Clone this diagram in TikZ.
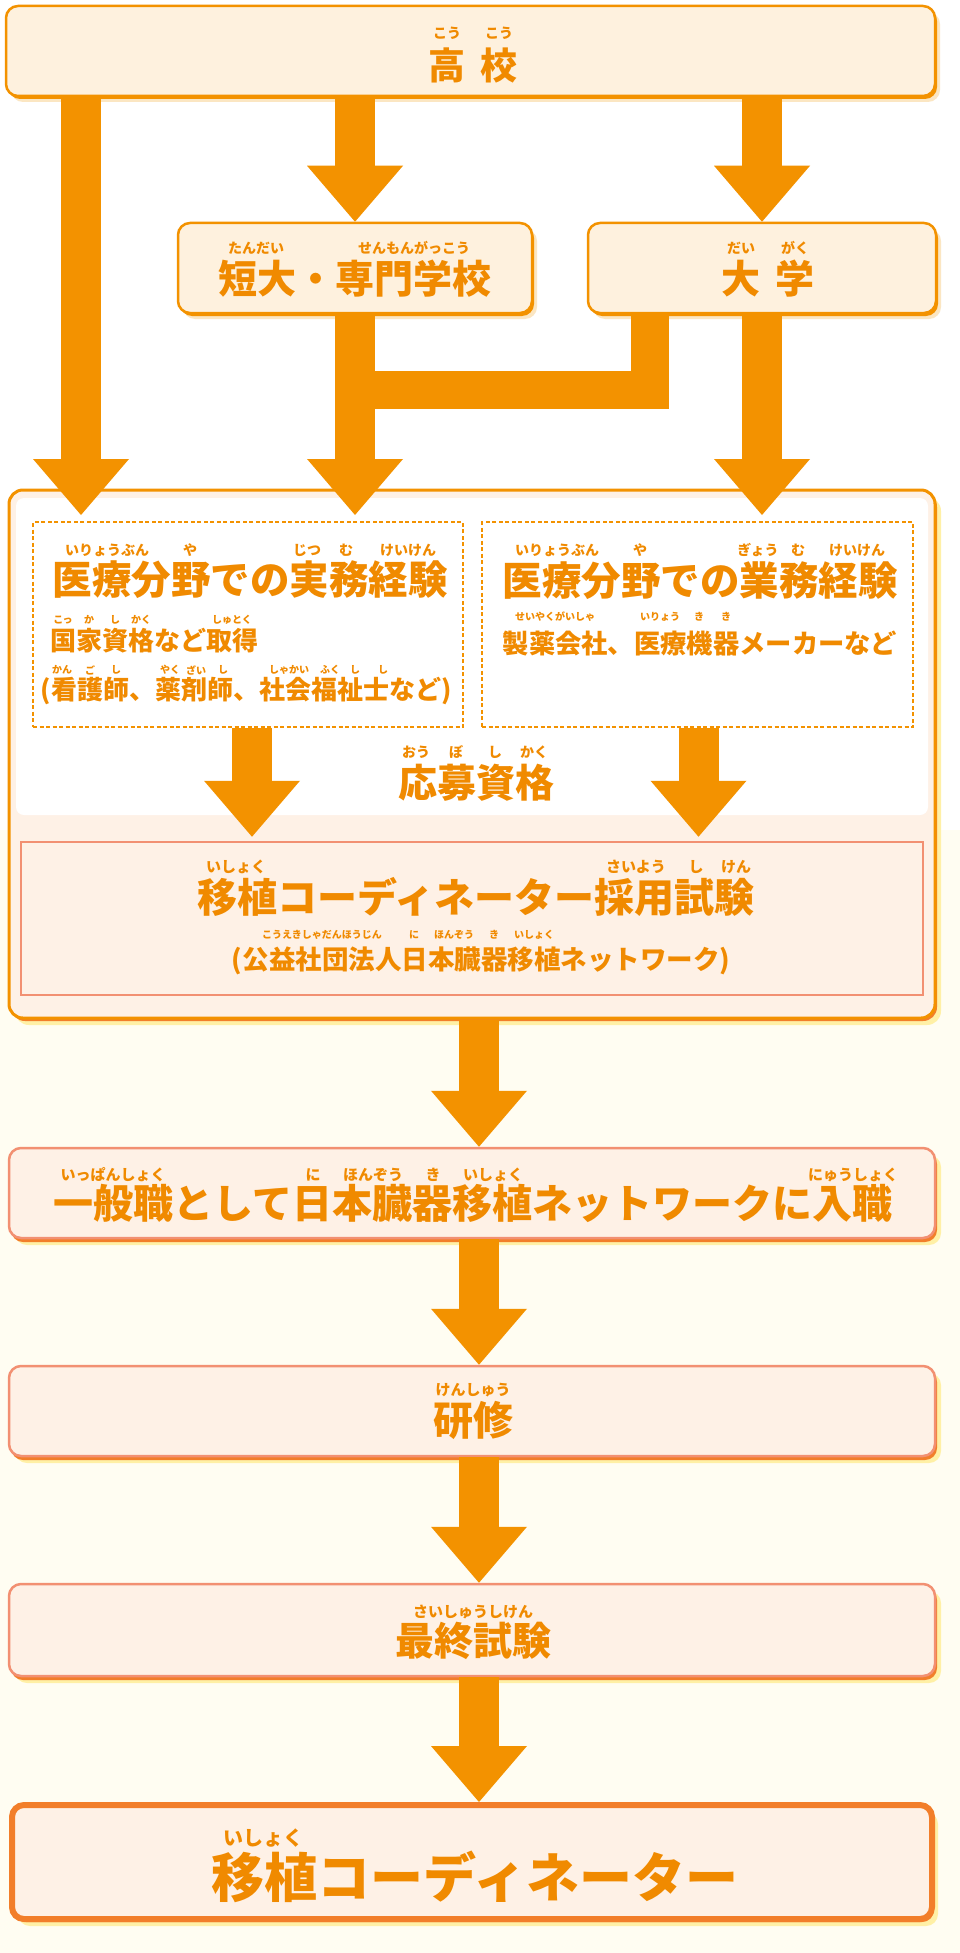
\documentclass[tikz,border=0pt]{standalone}
\usepackage{fontspec}
\setmainfont{Noto Sans CJK JP}
\usetikzlibrary{arrows.meta,shadows}
\definecolor{ora}{HTML}{F39200}
\definecolor{tcol}{HTML}{F08A00}
\definecolor{cream}{HTML}{FEF1DE}
\definecolor{halo}{HTML}{FBE6C2}
\definecolor{salmon}{HTML}{F29072}
\definecolor{redora}{HTML}{F27E2A}
\definecolor{lowfill}{HTML}{FEF1E6}
\definecolor{glow}{HTML}{FFF0A6}
\definecolor{bgl}{HTML}{FFFDF2}
\newcommand{\myfs}[1]{\fontsize{#1}{#1}\selectfont}
\begin{document}
\begin{tikzpicture}[x=1pt,y=-1pt,
  tx/.style={text=tcol, inner sep=0pt, font=\bfseries\myfs{#1}},
  topbox/.style={draw=ora, line width=2.5pt, fill=cream, rounded corners=12pt, inner sep=0pt,
    general shadow={shadow xshift=5pt, shadow yshift=-6pt, fill=halo},
    general shadow={shadow xshift=2pt, shadow yshift=-3pt, fill=ora}},
  contbox/.style={draw=ora, line width=3pt, fill=lowfill, rounded corners=14pt, inner sep=0pt,
    general shadow={shadow xshift=6pt, shadow yshift=-7pt, fill=glow},
    general shadow={shadow xshift=2pt, shadow yshift=-3pt, fill=redora}},
  lowbox/.style={draw=salmon, line width=2.5pt, fill=lowfill, rounded corners=12pt, inner sep=0pt,
    general shadow={shadow xshift=6pt, shadow yshift=-7pt, fill=glow},
    general shadow={shadow xshift=2pt, shadow yshift=-4pt, fill=redora}},
  finalbox/.style={draw=redora, line width=6pt, fill=lowfill, rounded corners=12pt, inner sep=0pt,
    general shadow={shadow xshift=6pt, shadow yshift=-7pt, fill=glow},
    general shadow={shadow xshift=2pt, shadow yshift=-3pt, fill=redora}},
  dashbox/.style={draw=ora, line width=1.8pt, dash pattern=on 4pt off 2.5pt, fill=white, inner sep=0pt},
  exambox/.style={draw=salmon, line width=2.5pt, fill=lowfill, inner sep=0pt},
  bigarrow/.style={draw=ora, line width=40pt, -{Triangle[width=96pt,length=56pt,line width=0pt]}},
  joinline/.style={draw=ora, line width=38pt, miter limit=10},
]
\useasboundingbox (0,0) rectangle (960,1953);
\fill[white] (0,0) rectangle (960,1953);
\fill[bgl] (0,830) rectangle (960,1953);

% ---------- boxes ----------
\node[topbox, minimum width=929pt, minimum height=90pt] (koko) at (470.5,51) {};
\node[topbox, minimum width=354pt, minimum height=90pt] (tandai) at (355,268) {};
\node[topbox, minimum width=348pt, minimum height=90pt] (daigaku) at (762,268) {};
\node[contbox, minimum width=926pt, minimum height=528pt] (cont) at (472,754) {};
\fill[white, rounded corners=8pt] (16,498) rectangle (928,815);
\node[dashbox, minimum width=430pt, minimum height=205pt] (dashL) at (248,624.5) {};
\node[dashbox, minimum width=431pt, minimum height=205pt] (dashR) at (697.5,624.5) {};
\node[exambox, minimum width=902pt, minimum height=153pt] (exam) at (472,918.5) {};
\node[lowbox, minimum width=926pt, minimum height=90pt] (ippan) at (472,1193) {};
\node[lowbox, minimum width=926pt, minimum height=90pt] (kenshu) at (472,1411) {};
\node[lowbox, minimum width=926pt, minimum height=92pt] (saishu) at (472,1630) {};
\node[finalbox, minimum width=920pt, minimum height=114pt] (final) at (472,1862) {};

% ---------- connectors ----------
\coordinate (t1) at (81,515);
\coordinate (mj) at (355,390);
\coordinate (cx) at (479,0);
\draw[bigarrow] (koko.south -| t1) -- (t1);
\draw[bigarrow] (koko.south -| tandai.north) -- (tandai.north);
\draw[bigarrow] (koko.south -| daigaku.north) -- (daigaku.north);
\draw[joinline] ([xshift=-112pt]daigaku.south) |- (mj);
\draw[bigarrow] (tandai.south) -- (tandai.south |- t1);
\draw[bigarrow] (daigaku.south) -- (daigaku.south |- t1);
\draw[bigarrow] ([xshift=4pt]dashL.south) -- ([xshift=4pt,yshift=4pt]dashL.south |- exam.north);
\draw[bigarrow] ([xshift=1pt]dashR.south) -- ([xshift=1pt,yshift=4pt]dashR.south |- exam.north);
\draw[bigarrow] (cont.south -| cx) -- (ippan.north -| cx);
\draw[bigarrow] (ippan.south -| cx) -- (kenshu.north -| cx);
\draw[bigarrow] (kenshu.south -| cx) -- (saishu.north -| cx);
\draw[bigarrow] (saishu.south -| cx) -- (final.north -| cx);

% ---------- texts ----------
\node[tx=37] (koko-t) at (473,65) {高\hspace{15pt}校};
\node[tx=14] (r1) at (447,33) {こう};
\node[tx=14] (r2) at (499,33) {こう};

\node[tx=39] (tandai-t) at (355,279) {短大・専門学校};
\node[tx=14] (r3) at (256,248) {たんだい};
\node[tx=14] (r4) at (414,248) {せんもんがっこう};

\node[tx=39] (daigaku-t) at (768,279) {大\hspace{15pt}学};
\node[tx=14] (r5) at (741,248) {だい};
\node[tx=14] (r6) at (795,248) {がく};

\node[tx=39.5] (jitsumu) at (250,580) {医療分野での実務経験};
\node[tx=14] (r7) at (107,550) {いりょうぶん};
\node[tx=14] (r8) at (190,550) {や};
\node[tx=14] (r9) at (307,550) {じつ};
\node[tx=14] (r10) at (346,550) {む};
\node[tx=14] (r11) at (408,550) {けいけん};

\node[tx=26] (kokka) at (154,641) {国家資格など取得};
\node[tx=10] (r12) at (63,620) {こっ};
\node[tx=10] (r13) at (89,620) {か};
\node[tx=10] (r14) at (115,620) {し};
\node[tx=10] (r15) at (141,620) {かく};
\node[tx=10] (r16) at (232,620) {しゅとく};

\node[tx=26] (kango) at (246,691) {(看護師、薬剤師、社会福祉士など)};
\node[tx=10] (r17) at (62,670) {かん};
\node[tx=10] (r18) at (90,670) {ご};
\node[tx=10] (r19) at (116,670) {し};
\node[tx=10] (r20) at (170,670) {やく};
\node[tx=10] (r21) at (196,670) {ざい};
\node[tx=10] (r22) at (223,670) {し};
\node[tx=10] (r23) at (289,670) {しゃかい};
\node[tx=10] (r24) at (330,670) {ふく};
\node[tx=10] (r25) at (355,670) {し};
\node[tx=10] (r26) at (383,670) {し};

\node[tx=39.5] (gyomu) at (700,581) {医療分野での業務経験};
\node[tx=14] (r27) at (557,550) {いりょうぶん};
\node[tx=14] (r28) at (640,550) {や};
\node[tx=14] (r29) at (758,550) {ぎょう};
\node[tx=14] (r30) at (798,550) {む};
\node[tx=14] (r31) at (857,550) {けいけん};

\node[tx=26.3] (seiyaku) at (700,643) {製薬会社、医療機器メーカーなど};
\node[tx=10] (r32) at (555,617) {せいやくがいしゃ};
\node[tx=10] (r33) at (660,617) {いりょう};
\node[tx=10] (r34) at (699,617) {き};
\node[tx=10] (r35) at (726,617) {き};

\node[tx=39] (oubo) at (476,783) {応募資格};
\node[tx=14] (r36) at (416,752) {おう};
\node[tx=14] (r37) at (456,752) {ぼ};
\node[tx=14] (r38) at (495,752) {し};
\node[tx=14] (r39) at (534,752) {かく};

\node[tx=40] (exam-t) at (476,897) {移植コーディネーター採用試験};
\node[tx=15] (r40) at (236,867) {いしょく};
\node[tx=15] (r41) at (636,867) {さいよう};
\node[tx=15] (r42) at (696,867) {し};
\node[tx=15] (r43) at (736,867) {けん};

\node[tx=26.5] (jot) at (481,961) {(公益社団法人日本臓器移植ネットワーク)};
\node[tx=10] (r44) at (322,935) {こうえきしゃだんほうじん};
\node[tx=10] (r45) at (414,935) {に};
\node[tx=10] (r46) at (454,935) {ほんぞう};
\node[tx=10] (r47) at (494,935) {き};
\node[tx=10] (r48) at (534,935) {いしょく};

\node[tx=40] (ippan-t) at (473,1203) {一般職として日本臓器移植ネットワークに入職};
\node[tx=15] (r49) at (113,1175) {いっぱんしょく};
\node[tx=15] (r50) at (313,1175) {に};
\node[tx=15] (r51) at (373,1175) {ほんぞう};
\node[tx=15] (r52) at (433,1175) {き};
\node[tx=15] (r53) at (493,1175) {いしょく};
\node[tx=15] (r54) at (853,1175) {にゅうしょく};

\node[tx=40] (kenshu-t) at (473,1420) {研修};
\node[tx=15] (r55) at (473,1390) {けんしゅう};

\node[tx=39] (saishu-t) at (473,1641) {最終試験};
\node[tx=15] (r56) at (473,1612) {さいしゅうしけん};

\node[tx=53] (final-t) at (475,1877) {移植コーディネーター};
\node[tx=20] (r57) at (263,1838) {いしょく};
\end{tikzpicture}
\end{document}
